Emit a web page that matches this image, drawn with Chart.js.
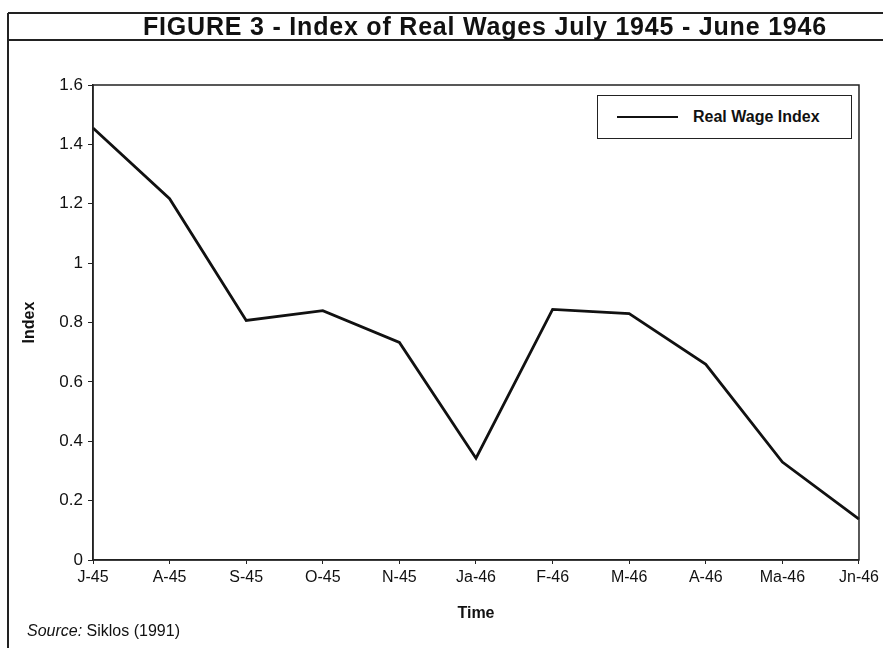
<!DOCTYPE html>
<html>
<head>
<meta charset="utf-8">
<script src="https://cdn.jsdelivr.net/npm/chart.js@4"></script>
<style>
  body { margin: 0; background: #fff; }
  #figura { position: relative; width: 883px; height: 648px; font-family: 'Liberation Sans', Arial, sans-serif; color: #111; }
  .linha-h { position: absolute; left: 8px; right: 0; height: 0; border-top: 2px solid #222; }
  .linha-v { position: absolute; left: 7px; top: 13px; bottom: 0; width: 0; border-left: 2px solid #222; }
  #titulo { position: absolute; left: 143px; top: 13px; height: 27px; line-height: 27px; font-size: 25px; font-weight: bold; letter-spacing: 0.8px; white-space: nowrap; }
  #grafico-box { position: absolute; left: 0; top: 0; width: 883px; height: 648px; }
  #legenda { position: absolute; left: 597px; top: 95px; width: 253px; height: 42px; border: 1.5px solid #222; background: #fff; }
  #legenda .traco { position: absolute; left: 19px; top: 20px; width: 61px; border-top: 2.5px solid #111; }
  #legenda .texto { position: absolute; left: 95px; top: 0; line-height: 42px; font-size: 16px; font-weight: bold; white-space: nowrap; }
  #fonte { position: absolute; left: 27px; top: 622px; font-size: 16px; white-space: nowrap; }
</style>
</head>
<body>
<div id="figura">
  <div id="grafico-box"><canvas id="graficoSalarios"></canvas></div>
  <div class="linha-h" style="top: 12px"></div>
  <div class="linha-h" style="top: 39px"></div>
  <div class="linha-v"></div>
  <div id="titulo">FIGURE 3 - Index of Real Wages July 1945 - June 1946</div>
  <div id="legenda"><div class="traco"></div><div class="texto">Real Wage Index</div></div>
  <div id="fonte"><i>Source:</i> Siklos (1991)</div>
</div>
<script>
  //Dados
  const meses = ['J-45', 'A-45', 'S-45', 'O-45', 'N-45', 'Ja-46', 'F-46', 'M-46', 'A-46', 'Ma-46', 'Jn-46']
  const indiceSalarioReal = [1.455, 1.217, 0.807, 0.84, 0.733, 0.343, 0.844, 0.83, 0.659, 0.33, 0.138]
  const eixoYMin = 0
  const eixoYMax = 1.6
  const eixoYPasso = 0.2

  //Plugin que desenha a moldura da área do gráfico
  const molduraArea = {
    id: 'molduraArea',
    afterDraw(chart) {
      const { ctx, chartArea } = chart
      ctx.save()
      ctx.strokeStyle = '#222'
      ctx.lineWidth = 1.5
      ctx.strokeRect(chartArea.left, chartArea.top, chartArea.right - chartArea.left, chartArea.bottom - chartArea.top)
      ctx.restore()
    }
  }

  Chart.defaults.font.family = "'Liberation Sans', Arial, sans-serif"
  Chart.defaults.color = '#111'

  const ctx = document.getElementById('graficoSalarios')
  new Chart(ctx, {
    type: 'line',
    data: {
      labels: meses,
      datasets: [{
        label: 'Real Wage Index',
        data: indiceSalarioReal,
        borderColor: '#111',
        borderWidth: 2.8,
        pointRadius: 0,
        tension: 0,
        fill: false
      }]
    },
    options: {
      responsive: true,
      maintainAspectRatio: false,
      animation: false,
      layout: { padding: { left: 0, right: 19, top: 85, bottom: 25 } },
      plugins: {
        legend: { display: false },
        tooltip: { enabled: false }
      },
      scales: {
        x: {
          offset: false,
          afterFit(scale) { scale.height = 63 },
          grid: { drawOnChartArea: false, drawTicks: true, tickLength: 4, color: '#222', tickColor: '#222' },
          border: { color: '#222', width: 1.5 },
          ticks: { font: { size: 16 }, padding: 4, maxRotation: 0 },
          title: { display: true, text: 'Time', font: { size: 16, weight: 'bold' }, padding: { top: 0, bottom: 0 } }
        },
        y: {
          min: eixoYMin,
          max: eixoYMax,
          afterFit(scale) { scale.width = 93 },
          grid: { drawOnChartArea: false, drawTicks: true, tickLength: 5, color: '#222', tickColor: '#222' },
          border: { color: '#222', width: 1.5 },
          ticks: {
            stepSize: eixoYPasso,
            font: { size: 17 },
            padding: 5,
            //remove o zero à direita (1.0 -> 1)
            callback: (valor) => String(Number(valor.toFixed(1)))
          },
          title: { display: true, text: 'Index', font: { size: 16, weight: 'bold' }, padding: { top: 20, bottom: 0 } }
        }
      }
    },
    plugins: [molduraArea]
  })
</script>
</body>
</html>
